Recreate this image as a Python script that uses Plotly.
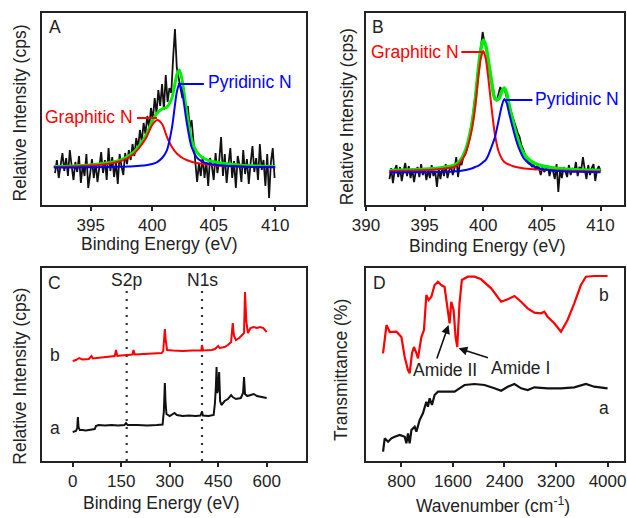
import numpy as np
import plotly.graph_objects as go

# ---------------- Panel A (N1s, sample 1) ----------------
a_raw_start, a_raw_step = 392.1, 0.15
a_raw_counts = [
    -5, 8, -10, 4, 15, -3, 10, -8, 18, 2,
    -12, 6, -4, 12, -15, 3, -8, 14, -20, -6,
    9, -10, 5, -14, 2, 16, -5, 8, -12, 20,
    -3, 11, -9, 6, -16, 14, 2, -7, 15, 4,
    18, 8, 24, 12, 30, 20, 38, 26, 45, 34,
    52, 40, 60, 48, 70, 55, 78, 62, 84, 58,
    93, 66, 80, 75, 110, 139, 100, 90, 80, 70,
    75, 55, 62, 40, 48, 25, 10, -14, 5, -8,
    12, -10, 6, -18, 10, 2, -12, 15, -5, 8,
    31, -8, 14, -15, 4, 20, -10, 7, -20, 12,
    3, -14, 18, -6, 9, -16, 5, 22, -4, 10,
    -12, 24, -2, 8, -18, 14, -30, 6, 20, -10,
]
a_raw_energy = np.round(a_raw_start + a_raw_step * np.arange(len(a_raw_counts)), 2)

a_fit_energy = [392, 393, 394, 395, 396, 397, 397.5, 398, 398.5, 399, 399.5, 400, 400.4, 400.8,
                401.2, 401.6, 402.0, 402.2, 402.4, 402.8, 403.2, 403.6, 404, 404.5, 405, 406,
                407, 408, 409, 410]
a_graphitic = [1.0, 1.3, 1.8, 2.4, 3.6, 5.5, 7.2, 10, 14, 21, 30, 43, 48, 44, 31, 21, 14.5,
               12.5, 10.5, 8, 6.3, 5, 4.2, 3.4, 2.8, 2, 1.5, 1.1, 0.9, 0.7]
a_pyridinic = [0.5, 0.5, 0.6, 0.7, 0.9, 1.1, 1.3, 1.5, 1.8, 2.2, 2.8, 4, 6, 10, 18, 40, 76,
               84, 78, 46, 21, 11, 7, 4.5, 3.5, 2.2, 1.5, 1.1, 0.9, 0.7]
a_envelope = [1.5, 1.8, 2.4, 3.1, 4.5, 6.6, 8.5, 11.5, 15.8, 23.2, 32.8, 47, 55, 59, 61, 70,
              93, 98, 90, 56, 28, 16.5, 11.2, 7.9, 6.3, 4.2, 3, 2.2, 1.8, 1.4]

# ---------------- Panel B (N1s, sample 2) ----------------
b_raw_start, b_raw_step = 392.0, 0.15
b_raw_counts = [
    -6, 5, -10, 3, 8, -4, 6, -8, 2, 10,
    -3, 7, -5, 4, -9, 2, 6, -4, 9, -2,
    5, -7, 3, -5, 8, -3, 2, -14, 4, -6,
    6, -3, 9, -5, 3, 7, -2, 5, 16, -4,
    10, 8, 16, 18, 24, 32, 42, 52, 64, 80,
    96, 110, 125, 141, 130, 126, 112, 102, 90, 80,
    74, 72, 80, 86, 82, 85, 80, 72, 66, 62,
    56, 50, 46, 40, 36, 28, 24, 18, 14, 10,
    12, 6, 9, 3, 8, 5, -2, 6, 1, 4,
    7, -3, 5, 2, -6, 9, -19, 3, -5, 6,
    2, -4, 8, -2, 5, 1, 11, -3, 6, 3,
    16, 4, -6, 8, -2, 5, 9, -8, 3, 7,
    2,
]
b_raw_energy = np.round(b_raw_start + b_raw_step * np.arange(len(b_raw_counts)), 2)

b_fit_energy = [392, 394, 396, 397, 397.5, 398, 398.5, 399, 399.3, 399.6, 399.8, 400.0, 400.2,
                400.4, 400.7, 401.0, 401.3, 401.6, 401.8, 402.0, 402.2, 402.5, 402.8, 403.0,
                403.5, 404, 404.5, 405, 406, 407, 408, 410]
b_graphitic = [2, 2.5, 3.5, 5, 6, 10, 20, 42, 65, 98, 115, 122, 115, 98, 66, 38, 22, 14, 11,
               9.5, 8.5, 7, 6, 5.5, 4.6, 4, 3.7, 3.3, 2.7, 2.3, 2, 1.6]
b_pyridinic = [0.5, 0.7, 1, 1.3, 1.6, 2, 3, 4.5, 6, 7.5, 9, 11, 13, 17, 26, 36, 52, 68, 74, 70,
               60, 46, 33, 26, 14, 8.5, 5.5, 4, 2.3, 1.6, 1.2, 0.8]
b_envelope = [2.5, 3.2, 4.5, 6.3, 7.6, 12, 23, 46.5, 71, 105.5, 124, 133, 128, 115, 92, 74, 74,
              82, 85, 79.5, 68.5, 53, 39, 31.5, 18.6, 12.5, 9.2, 7.3, 5, 3.9, 3.2, 2.4]

# ---------------- Panel C (XPS survey) ----------------
c_a_energy = [0, 5, 10, 14, 16, 18, 22, 30, 40, 50, 60, 68, 72, 80, 100, 120, 140, 160, 165, 170,
              200, 230, 260, 278, 282, 285, 287, 290, 300, 310, 315, 322, 340, 360, 380, 395, 400,
              403, 420, 436, 440, 443, 445, 447, 450, 453, 456, 460, 470, 480, 490, 495, 505, 520,
              527, 530, 533, 540, 550, 560, 570, 580, 590, 600]
c_a_counts = [29, 29.5, 30, 33, 44, 34, 31, 31, 30.5, 31, 31.5, 32, 35, 36, 35.5, 36, 35.5, 36, 38,
              36, 36, 35.5, 36, 36.5, 50, 78, 60, 47, 45, 47, 48, 46, 45, 45.5, 45, 45.5, 49, 45.5,
              45, 46, 58, 75, 94, 68, 72, 89, 60, 56, 60, 62, 66, 64, 62, 63, 68, 84, 67, 65, 66,
              67, 65, 64.5, 64, 63]
c_b_energy = [0, 10, 20, 30, 50, 58, 62, 80, 100, 120, 130, 134, 138, 150, 170, 185, 188, 192, 220,
              250, 275, 280, 285, 288, 292, 310, 340, 370, 398, 400, 403, 430, 440, 450, 455, 470,
              480, 490, 495, 499, 505, 515, 525, 530, 533, 537, 542, 550, 560, 570, 580, 590, 600]
c_b_counts = [100, 101, 103, 101.5, 102, 105, 102.5, 103, 103.5, 104, 105, 111, 105, 105.5, 106,
              106.5, 111, 106.5, 107, 107.5, 108, 110, 132, 120, 111, 110.5, 110, 110.5, 110.5,
              116, 110.5, 111, 112, 115, 113, 114, 116, 119, 138, 125, 121, 123, 126, 128, 169,
              140, 128, 133, 134, 133, 134, 133, 129]
c_markers = ["S2p", "N1s"]
c_marker_energy = [167, 400]

# ---------------- Panel D (FTIR) ----------------
d_b_wavenumber = [515, 568, 619, 723, 800, 851, 902, 928, 964, 995, 1032, 1057, 1110, 1150, 1187,
                  1223, 1264, 1315, 1367, 1419, 1470, 1497, 1548, 1574, 1610, 1641, 1667, 1702,
                  1738, 1831, 1935, 2038, 2193, 2348, 2450, 2554, 2658, 2760, 2864, 2967, 3018,
                  3069, 3173, 3277, 3379, 3483, 3586, 3664, 3792, 4000]
d_b_trans = [107.7, 136, 129, 129.3, 124, 104, 91, 87.7, 107.7, 114, 108, 102.7, 124, 131, 166,
             161, 164, 176, 179.3, 176, 174, 161, 137.7, 159.3, 151, 124, 114, 157.7, 181, 184.3,
             184.3, 181.7, 172.7, 159.3, 161.7, 165, 159.3, 152.7, 148.3, 147.7, 149.3, 144.3,
             137.7, 129.3, 141, 157.7, 176, 184.3, 185, 185]
d_a_wavenumber = [515, 541, 593, 645, 696, 774, 851, 877, 902, 928, 955, 1006, 1032, 1083, 1134,
                  1187, 1212, 1238, 1274, 1315, 1367, 1470, 1625, 1702, 1780, 1935, 2089, 2244,
                  2348, 2450, 2554, 2658, 2760, 2864, 3069, 3277, 3483, 3664, 3792, 4000]
d_a_trans = [9.3, 22.7, 19.3, 22.7, 24.3, 26, 24.3, 17.7, 27.7, 17.7, 31, 34.3, 29.3, 41, 47.7,
             59.3, 54.3, 62.7, 56, 66, 69.3, 69.3, 69.3, 72.7, 76, 77, 76, 72.7, 70.3, 74.3, 77,
             72.7, 71, 73.7, 72.7, 72.7, 73.7, 77, 74.3, 72.7]

FONT = "Liberation Sans, Arial, sans-serif"
FS = 17.5
TICK_FS = 17
RED, BLUE, GREEN, BLACK = "#ff0000", "#0000ff", "#00ee00", "#111111"

fig = go.Figure()

def add(x, y, ax, color, width, shape="linear"):
    fig.add_trace(go.Scatter(x=x, y=y, mode="lines", xaxis=ax[0], yaxis=ax[1],
                             line=dict(color=color, width=width, shape=shape, smoothing=0.8),
                             hoverinfo="skip"))

# A
add(a_raw_energy, a_raw_counts, ("x", "y"), BLACK, 1.8)
add(a_fit_energy, a_envelope, ("x", "y"), GREEN, 3, "spline")
add(a_fit_energy, a_graphitic, ("x", "y"), RED, 2, "spline")
add(a_fit_energy, a_pyridinic, ("x", "y"), BLUE, 2, "spline")
# B
add(b_raw_energy, b_raw_counts, ("x2", "y2"), BLACK, 1.8)
add(b_fit_energy, b_envelope, ("x2", "y2"), GREEN, 3.5, "spline")
add(b_fit_energy, b_graphitic, ("x2", "y2"), RED, 2, "spline")
add(b_fit_energy, b_pyridinic, ("x2", "y2"), BLUE, 2, "spline")
# C
for e in c_marker_energy:
    fig.add_trace(go.Scatter(x=[e, e], y=[0, 172], mode="lines", xaxis="x3", yaxis="y3",
                             line=dict(color="#333333", width=2.2, dash="2px,6px"),
                             hoverinfo="skip"))
add(c_a_energy, c_a_counts, ("x3", "y3"), BLACK, 2)
add(c_b_energy, c_b_counts, ("x3", "y3"), RED, 2)
# D
add(d_b_wavenumber, d_b_trans, ("x4", "y4"), RED, 2.2)
add(d_a_wavenumber, d_a_trans, ("x4", "y4"), BLACK, 2.2)

axis_common = dict(showline=True, mirror=True, linecolor="#222222", linewidth=2,
                   showgrid=False, zeroline=False, automargin=False)
xcommon = dict(axis_common, ticks="outside", ticklen=4, tickwidth=1.5, tickcolor="#222222",
               ticklabeloverflow="allow",
               tickfont=dict(family=FONT, size=TICK_FS, color="#222222"))
ycommon = dict(axis_common, showticklabels=False, ticks="")

xdomL, xdomR = [0.0662, 0.4880], [0.5837, 0.9952]
ydomT, ydomB = [0.6042, 0.9755], [0.1100, 0.4826]

fig.update_layout(
    template="none",
    width=627, height=518, margin=dict(l=0, r=0, t=0, b=0, pad=0, autoexpand=False),
    paper_bgcolor="white", plot_bgcolor="white", showlegend=False,
    font=dict(family=FONT, size=FS, color="#222222"),
    xaxis=dict(xcommon, domain=xdomL, anchor="y", range=[391.0, 412.5],
               tickvals=[395, 400, 405, 410]),
    yaxis=dict(ycommon, domain=ydomT, anchor="x", range=[-37, 155.3]),
    xaxis2=dict(xcommon, domain=xdomR, anchor="y2", range=[390, 412],
                tickvals=[390, 395, 400, 405, 410]),
    yaxis2=dict(ycommon, domain=ydomT, anchor="x2", range=[-32, 160.3]),
    xaxis3=dict(xcommon, domain=xdomL, anchor="y3", range=[-96.5, 721.6],
                tickvals=[0, 150, 300, 450, 600]),
    yaxis3=dict(ycommon, domain=ydomB, anchor="x3", range=[0, 193]),
    xaxis4=dict(xcommon, domain=xdomR, anchor="y4", range=[250, 4255],
                tickvals=[800, 1600, 2400, 3200, 4000]),
    yaxis4=dict(ycommon, domain=ydomB, anchor="x4", range=[0, 193]),
)

ann = []
def txt(text, x, y, xref="paper", yref="paper", xanchor="center", yanchor="middle",
        color="#222222", angle=0):
    ann.append(dict(text=text, x=x, y=y, xref=xref, yref=yref, xanchor=xanchor,
                    yanchor=yanchor, showarrow=False, textangle=angle,
                    font=dict(family=FONT, size=FS, color=color)))

# panel letters
txt("A", 0.0877, 0.948)
txt("B", 0.6034, 0.9485)
txt("C", 0.0877, 0.453)
txt("D", 0.606, 0.453)
# axis titles
txt("Relative Intensity (cps)", 0.032, 0.781, angle=-90)
txt("Relative Intensity (cps)", 0.553, 0.775, angle=-90)
txt("Relative Intensity (cps)", 0.032, 0.273, angle=-90)
txt("Transmittance (%)", 0.545, 0.285, angle=-90)
txt("Binding Energy (eV)", 0.2544, 0.5285)
txt("Binding Energy (eV)", 0.7775, 0.5245)
txt("Binding Energy (eV)", 0.2579, 0.0284)
txt("Wavenumber (cm<sup>-1</sup>)", 0.7868, 0.0, yanchor="bottom")
# peak labels (values relative to the fitted baseline)
txt("Graphitic N", 398.6, 51.3, "x", "y", xanchor="right", color=RED)
txt("Pyridinic N", 404.36, 86, "x", "y", xanchor="left", color=BLUE)
txt("Graphitic N", 398.13, 121.3, "x2", "y2", xanchor="right", color=RED)
txt("Pyridinic N", 404.27, 73.7, "x2", "y2", xanchor="left", color=BLUE)
# survey labels
for name, e in zip(c_markers, c_marker_energy):
    txt(name, e, 181, "x3", "y3")
txt("b", -55, 106, "x3", "y3")
txt("a", -55, 33, "x3", "y3")
# FTIR labels
txt("b", 3946, 166, "x4", "y4")
txt("a", 3946, 53, "x4", "y4")
txt("Amide II", 1478, 91, "x4", "y4")
txt("Amide I", 2644, 93, "x4", "y4")
# arrows
for (hx, hy, tx, ty) in [(1532, 136, 1342, 101), (1687, 112.7, 2167, 102.7)]:
    ann.append(dict(text="", x=hx, y=hy, ax=tx, ay=ty, xref="x4", yref="y4", axref="x4",
                    ayref="y4", showarrow=True, arrowhead=2, arrowsize=1.1, arrowwidth=1.6,
                    arrowcolor="#111111"))
fig.update_layout(annotations=ann)

# connector lines for peak labels
shapes = [
    dict(type="line", xref="x", yref="y", x0=398.77, y0=50, x1=400.38, y1=50,
         line=dict(color=RED, width=2)),
    dict(type="line", xref="x", yref="y", x0=402.09, y0=84, x1=404.2, y1=84,
         line=dict(color=BLUE, width=2)),
    dict(type="line", xref="x2", yref="y2", x0=398.13, y0=121, x1=400.03, y1=121,
         line=dict(color=RED, width=2)),
    dict(type="line", xref="x2", yref="y2", x0=401.95, y0=73, x1=404.19, y1=73,
         line=dict(color=BLUE, width=2)),
]
fig.update_layout(shapes=shapes)

fig.write_html("out.html")
